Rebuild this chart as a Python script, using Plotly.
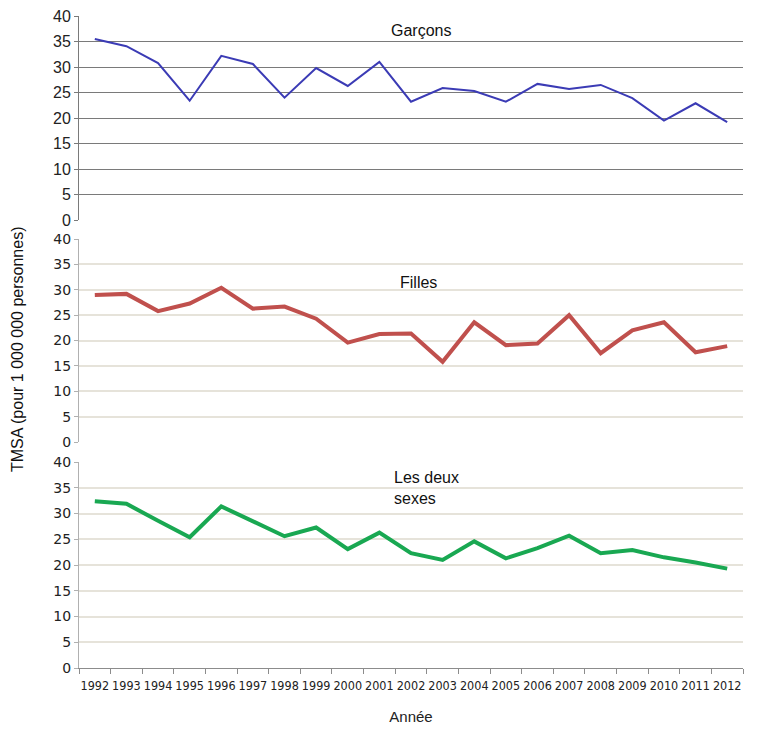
import plotly.graph_objects as go

years = [str(y) for y in range(1992, 2013)]
garcons = [35.5, 34.1, 30.8, 23.4, 32.2, 30.6, 24.0, 29.8, 26.3, 31.0, 23.2,
           25.9, 25.3, 23.2, 26.7, 25.7, 26.5, 23.9, 19.5, 22.9, 19.2]
filles = [29.0, 29.2, 25.8, 27.3, 30.4, 26.3, 26.7, 24.3, 19.6, 21.3, 21.4,
          15.8, 23.6, 19.1, 19.4, 25.0, 17.5, 22.0, 23.6, 17.7, 18.9]
deux = [32.4, 31.9, 28.6, 25.4, 31.4, 28.5, 25.6, 27.3, 23.1, 26.3, 22.3,
        21.0, 24.6, 21.3, 23.3, 25.7, 22.3, 22.9, 21.5, 20.5, 19.3]
y_ticks = [0, 5, 10, 15, 20, 25, 30, 35, 40]

fig = go.Figure()
fig.add_trace(go.Scatter(x=years, y=garcons, mode="lines", xaxis="x", yaxis="y",
                         line=dict(color="#3b3bb5", width=2), showlegend=False))
fig.add_trace(go.Scatter(x=years, y=filles, mode="lines", xaxis="x2", yaxis="y2",
                         line=dict(color="#c0504d", width=4), showlegend=False))
fig.add_trace(go.Scatter(x=years, y=deux, mode="lines", xaxis="x3", yaxis="y3",
                         line=dict(color="#19a852", width=4), showlegend=False))

H = 652.0
W = 664.0
dom_top = [(668 - 220) / H, 1.0]
dom_mid = [(668 - 442) / H, (668 - 239) / H]
dom_bot = [0.0, 206 / H]

xcommon = dict(type="category", categoryorder="array", categoryarray=years,
               range=[-0.5, 20.5], showgrid=False, zeroline=False, automargin=False)

fig.update_layout(
    width=752, height=721,
    margin=dict(l=71, r=17, t=8, b=61),
    paper_bgcolor="white", plot_bgcolor="white",
    font=dict(family="Liberation Sans, Arial", color="#222222"),
    xaxis=dict(**xcommon, anchor="y", showticklabels=False, showline=False),
    xaxis2=dict(**xcommon, anchor="y2", showticklabels=False, showline=False),
    xaxis3=dict(**xcommon, anchor="y3", showticklabels=True, showline=True,
                linecolor="#8c8c8c", linewidth=1, ticks="outside", ticklen=5,
                tickcolor="#8c8c8c", tickson="boundaries", tickangle=0,
                ticklabelstandoff=6, ticklabeloverflow="allow",
                tickfont=dict(family="Liberation Sans Narrow, DejaVu Sans Condensed", size=12.5, color="#222222"),
                title=dict(text="Année", font=dict(size=15, family="Liberation Sans, Arial"), standoff=19)),
    yaxis=dict(domain=dom_top, range=[0, 40.02], tickvals=y_ticks, showgrid=True,
               gridcolor="#7a7a7a", gridwidth=1, zeroline=False, showline=True,
               linecolor="#7a7a7a", ticks="outside", ticklen=4, tickcolor="#7a7a7a",
               automargin=False, ticklabeloverflow="allow",
               tickfont=dict(family="Liberation Sans, Arial", size=16, color="#222222")),
    yaxis2=dict(domain=dom_mid, range=[0, 40.02], tickvals=y_ticks, showgrid=True,
                gridcolor="#e6e3da", gridwidth=1.5, zeroline=False, showline=True,
                linecolor="#b0b0b0", ticks="outside", ticklen=4, tickcolor="#b0b0b0",
                automargin=False, ticklabeloverflow="allow",
                tickfont=dict(family="DejaVu Sans, Verdana", size=14, color="#222222")),
    yaxis3=dict(domain=dom_bot, range=[0, 40.02], tickvals=y_ticks, showgrid=True,
                gridcolor="#e6e3da", gridwidth=1.5, zeroline=False, showline=True,
                linecolor="#b0b0b0", ticks="outside", ticklen=4, tickcolor="#b0b0b0",
                automargin=False, ticklabeloverflow="allow",
                tickfont=dict(family="DejaVu Sans, Verdana", size=14, color="#222222")),
)

fig.add_annotation(text="Garçons", xref="paper", yref="paper",
                   x=(389 - 79) / W, y=(668 - 31) / H, xanchor="left", yanchor="middle",
                   showarrow=False, font=dict(size=16, family="Liberation Sans, Arial", color="#111111"))
fig.add_annotation(text="Filles", xref="paper", yref="paper",
                   x=(398 - 79) / W, y=(668 - 282) / H, xanchor="left", yanchor="middle",
                   showarrow=False, font=dict(size=16, family="Liberation Sans, Arial", color="#111111"))
fig.add_annotation(text="Les deux<br>sexes", xref="paper", yref="paper", align="left",
                   x=(392 - 79) / W, y=(668 - 488) / H, xanchor="left", yanchor="middle",
                   showarrow=False, font=dict(size=16, family="Liberation Sans, Arial", color="#111111"))
fig.add_annotation(text="TMSA (pour 1 000 000 personnes)", xref="paper", yref="paper",
                   x=(18 - 79) / W, y=(668 - 350) / H, xanchor="center", yanchor="middle",
                   textangle=-90, showarrow=False,
                   font=dict(size=16, family="Liberation Sans, Arial", color="#111111"))

fig.write_html("out.html")
